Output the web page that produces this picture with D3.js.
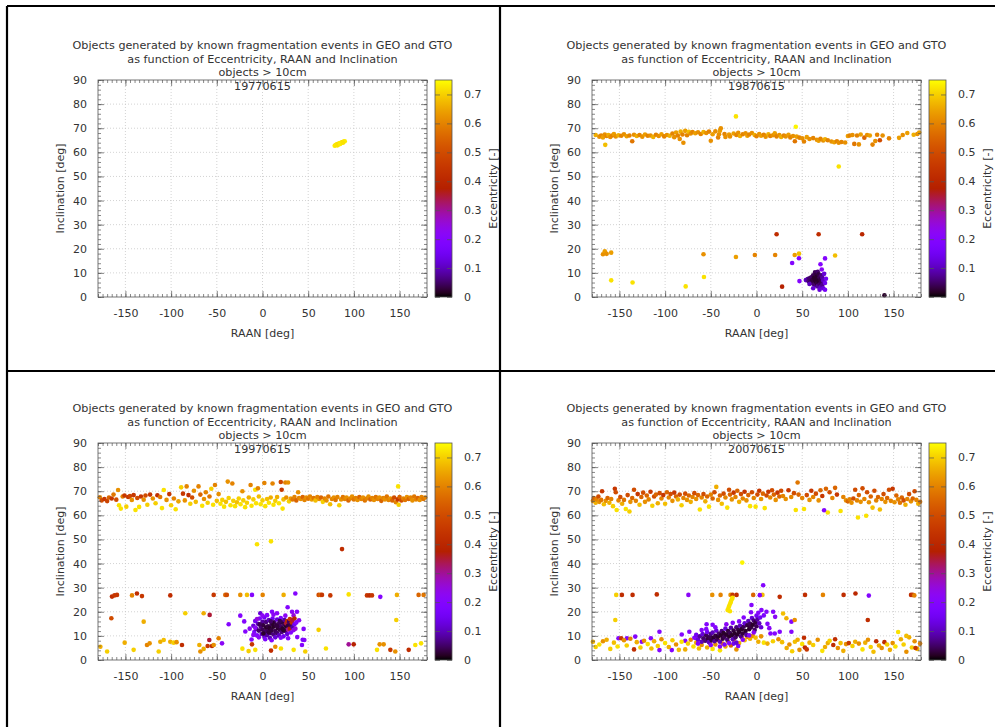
<!DOCTYPE html>
<html>
<head>
<meta charset="utf-8">
<script src="https://cdn.jsdelivr.net/npm/d3@7"></script>
<style>
  body { margin: 0; background: #fff; }
  text { font-family: "DejaVu Sans", sans-serif; fill: #333; }
</style>
</head>
<body>
<div id="container"></div>
<script>
// [RAAN deg, inclination deg, eccentricity]
var data1977 = [
  [79,62.7,.73],[80,63.0,.72],[81,63.2,.73],[82,63.4,.72],[83,63.3,.71],[84,63.7,.72],[85,63.9,.73],
  [86,64.0,.72],[87,64.2,.72],[88,64.3,.71],[89,64.5,.72],[90,64.6,.73],[82,62.9,.72],[85,63.5,.73],[88,64.0,.72]
];

var data1987 = [
  // band ~66 deg
  [-176,67.2,.66],[-172,66.5,.62],[-170,67.0,.6],[-168,66.2,.64],[-166,67.4,.62],[-164,66.8,.6],[-162,67.2,.66],
  [-160,66.4,.62],[-158,67.0,.6],[-156,67.6,.64],[-154,66.6,.62],[-151,67.1,.66],[-148,66.9,.6],[-145,67.5,.62],
  [-142,66.7,.64],[-139,67.0,.6],[-136,64.6,.58],[-134,67.3,.62],[-131,66.8,.66],[-128,67.2,.6],[-125,66.5,.62],
  [-122,67.4,.64],[-119,66.9,.6],[-116,67.0,.62],[-113,66.4,.66],[-110,67.3,.6],[-107,66.8,.62],[-104,67.5,.64],
  [-101,66.6,.6],[-98,67.2,.62],[-95,66.9,.66],[-92,67.8,.6],[-90,66.3,.62],[-88,68.2,.64],[-86,67.0,.6],
  [-84,65.5,.62],[-83,68.6,.66],[-81,67.4,.6],[-80,64.0,.62],[-78,68.9,.64],[-76,67.1,.6],[-74,68.5,.68],
  [-72,67.8,.62],[-70,68.4,.6],[-67,67.9,.64],[-64,68.3,.62],[-61,67.6,.6],[-58,68.4,.66],[-55,68.0,.62],
  [-52,68.6,.6],[-50,64.8,.62],[-48,67.5,.64],[-45,68.7,.62],[-42,66.2,.6],[-41,67.5,.62],[-40,69.0,.64],
  [-39,70.0,.62],[-35,67.6,.6],[-34,66.4,.62],[-30,67.4,.64],[-29,66.6,.62],
  [-25,67.8,.64],[-22,67.2,.6],[-20,68.1,.62],[-18,66.8,.66],[-15,67.5,.6],[-12,67.9,.62],[-10,66.9,.64],
  [-8,67.4,.6],[-5,68.0,.62],[-2,67.2,.66],[0,66.7,.6],[3,67.6,.62],[5,66.9,.64],[8,67.3,.6],[10,66.5,.62],
  [13,67.5,.66],[15,66.8,.6],[18,67.1,.62],[20,67.9,.64],[22,66.6,.6],[25,67.2,.62],[27,66.4,.66],[30,67.0,.6],
  [32,66.6,.62],[35,67.3,.64],[37,66.2,.6],[40,66.8,.62],[42,64.6,.58],[44,66.5,.64],[47,66.1,.6],[50,65.8,.62],
  [52,64.5,.6],[55,66.3,.64],[58,65.5,.62],[62,65.9,.6],[66,65.2,.62],[68,64.8,.64],[70,65.6,.6],[73,64.9,.62],
  [75,65.4,.66],[78,65.0,.6],[82,64.5,.62],[85,64.2,.64],[88,64.6,.6],[90,64.0,.62],[93,64.3,.6],[97,64.1,.62],
  [100,66.8,.64],[102,67.0,.6],[105,67.2,.62],[107,63.5,.58],[110,67.0,.6],[112,63.3,.62],[114,67.4,.64],
  [118,66.1,.55],[121,67.2,.62],[124,67.0,.64],[127,63.2,.6],[130,64.7,.62],[132,67.3,.6],[135,65.0,.5],
  [138,67.0,.62],[145,65.8,.6],[156,66.0,.64],[160,67.2,.62],[165,68.0,.64],[172,67.3,.66],[176,67.6,.62],[178,68.2,.64],
  // scattered
  [-165.5,63.1,.68],[-22.5,74.9,.72],[43,70.6,.74],[90,54.1,.72],
  [22,26,.42],[68,26,.42],[115.6,26,.4],
  [-168,17.7,.62],[-166,19,.64],[-164,17.9,.62],[-159,18.4,.64],
  [-159,6.9,.72],[-135.6,6,.72],[-77.5,4.4,.72],[-57.5,8.3,.72],
  [-58,17.7,.62],[-22.5,16.6,.64],[-1.8,17.4,.6],[20.4,17.4,.6],[41.8,17.4,.64],[46.5,18,.68],[86,17.2,.68],
  [39,14.1,.2],[46.5,16.1,.2],[47,6.6,.2],[28,4.3,.38],[75,16,.2],[70,13.6,.2],[71.4,11.4,.22],[140,0.7,.02],
  // cluster
  [54,7.0,.1],[56,7.4,.08],[57,6.5,.06],[58,7.8,.05],[59,6.2,.04],[60,8.2,.05],[60,5.8,.07],[61,7.0,.03],
  [62,9.0,.04],[62,6.0,.03],[63,8.0,.02],[63,5.2,.05],[64,10.2,.04],[64,7.2,.02],[65,9.2,.03],[65,6.4,.02],
  [65,4.8,.06],[66,8.4,.02],[66,5.6,.03],[67,10.5,.05],[67,7.6,.02],[67,4.4,.08],[68,9.4,.03],[68,6.6,.02],
  [69,8.2,.04],[69,5.2,.05],[70,7.2,.03],[70,4.0,.1],[71,9.0,.06],[71,6.0,.04],[72,8.0,.08],[72,5.0,.07],
  [73,6.8,.1],[73,3.6,.12],[74,9.6,.12],[75,5.8,.14],[75,3.0,.16],[76,7.6,.15],[58,5.4,.1],[62,3.6,.12],[69,3.0,.12]
];

var data1997 = [
  // band, left part mixed
  [-178,67.5,.6],[-176,66.2,.5],[-173,66.8,.45],[-170,65.9,.48],[-168,67.4,.55],[-165,67.0,.45],[-163,68.6,.58],
  [-160,66.5,.5],[-158,70.5,.62],[-157,64.2,.72],[-155,62.8,.72],[-153,67.8,.6],[-151,68.2,.45],[-149,63.6,.7],
  [-147,67.6,.45],[-145,68.0,.48],[-143,66.4,.62],[-141,68.4,.45],[-139,62.2,.72],[-137,67.2,.5],[-135,63.5,.72],
  [-133,67.8,.45],[-130,66.5,.62],[-128,68.2,.5],[-126,64.4,.7],[-123,68.6,.45],[-120,67.0,.62],[-117,65.0,.7],
  [-115,68.3,.42],[-112,67.6,.58],[-110,63.0,.72],[-108,70.5,.72],[-105,66.4,.62],[-102,68.8,.45],[-100,64.2,.7],
  [-97,67.0,.6],[-95,62.5,.72],[-92,65.8,.65],[-89,71.6,.7],[-87,69.0,.45],[-85,66.2,.62],[-83,72.0,.6],
  [-81,68.4,.42],[-79,64.8,.7],[-77,67.4,.5],[-75,70.2,.62],[-73,65.6,.68],[-70,72.0,.6],[-68,68.6,.55],
  [-66,64.0,.72],[-64,66.8,.62],[-62,69.6,.6],[-60,65.2,.7],[-58,67.8,.58],[-56,71.0,.7],[-54,64.4,.72],
  [-52,72.6,.6],[-50,66.0,.68],[-48,68.8,.62],
  // middle, yellow
  [-46,64.8,.72],[-44,66.4,.7],[-42,63.6,.72],[-40,65.6,.68],[-38,74.0,.62],[-37,67.2,.7],[-35,64.2,.72],
  [-33,73.2,.6],[-32,66.0,.7],[-30,63.8,.72],[-28,65.4,.68],[-26,67.0,.7],[-24,64.6,.72],[-22,70.0,.62],
  [-21,66.2,.7],[-19,63.4,.72],[-17,65.2,.7],[-15,67.4,.66],[-13,72.6,.6],[-12,64.0,.72],[-10,66.6,.7],
  [-8,70.6,.72],[-7,65.0,.72],[-5,71.2,.6],[-4,67.8,.68],[-2,64.6,.72],[0,66.2,.7],[2,73.4,.6],[3,63.8,.72],
  [5,66.8,.68],[7,65.2,.72],[9,67.4,.66],[11,73.2,.6],[12,64.4,.72],[14,66.0,.7],[16,67.6,.66],[18,65.0,.72],
  [20,73.8,.48],[21,70.6,.45],[22,62.8,.72],[23,66.6,.68],[25,73.6,.6],[26,67.4,.62],[28,73.6,.62],[29,65.8,.7],
  [31,67.0,.64],
  // right, orange
  [33,66.6,.58],[35,67.6,.6],[37,66.2,.55],[39,69.6,.62],[40,67.2,.6],[42,66.8,.62],[44,67.6,.55],[46,66.4,.6],
  [48,67.4,.62],[50,66.9,.58],[52,67.8,.6],[54,66.6,.64],[56,67.2,.58],[58,66.2,.68],[60,67.6,.6],[62,66.8,.62],
  [64,67.4,.55],[66,65.6,.7],[68,67.0,.6],[70,66.2,.62],[72,67.8,.58],[74,64.6,.68],[76,66.8,.6],[78,67.4,.62],
  [80,66.4,.58],[82,67.6,.6],[84,64.2,.7],[86,66.6,.62],[88,67.6,.58],[90,66.8,.6],[92,67.4,.62],[94,66.2,.55],
  [96,67.0,.6],[98,67.8,.62],[100,66.6,.58],[102,67.2,.6],[104,66.4,.62],[106,67.6,.55],[108,66.8,.6],
  [110,67.4,.62],[112,66.2,.58],[114,67.0,.6],[116,67.8,.62],[118,66.6,.55],[120,67.2,.6],[122,66.4,.62],
  [124,67.6,.58],[126,66.8,.6],[128,67.4,.62],[130,66.0,.55],[132,67.2,.6],[134,66.6,.62],[136,67.8,.58],
  [138,66.4,.6],[140,67.0,.62],[142,66.2,.55],[144,67.4,.5],[146,65.4,.6],[148,66.6,.45],[149,64.4,.7],
  [150,67.6,.55],[152,66.2,.5],[154,67.0,.6],[156,66.4,.58],[158,67.6,.62],[160,66.8,.55],[162,67.4,.6],
  [164,66.2,.62],[166,67.8,.58],[168,66.6,.6],[170,67.2,.55],[172,66.4,.62],[174,67.6,.6],[176,66.8,.58],[178,67.4,.6],
  // line near 27 deg
  [-164.7,26.3,.42],[-162,26.8,.45],[-159.2,27.0,.45],[-142.8,26.8,.6],[-137.4,27.6,.42],[-131.9,26.5,.45],
  [-100.9,26.8,.42],[-53.4,27.0,.45],[-40.7,27.0,.55],[-39,27.0,.5],[-24.3,27.0,.62],[-17,27.0,.68],
  [-11.5,27.0,.2],[0.2,27.0,.6],[23.1,27.0,.66],[35.9,27.6,.2],[61.4,27.0,.5],[63.5,27.0,.55],[65.1,27.0,.45],
  [74.2,26.8,.45],[94.3,27.2,.72],[114.3,26.8,.45],[117,26.8,.42],[119.8,26.8,.45],[128.9,26.2,.2],
  [147.1,27.0,.66],[170.8,27.0,.55],[176.3,27.0,.58],
  // low and scattered
  [-165.4,17.3,.5],[-130,15.9,.66],[-84.5,19.4,.7],[-64.4,19.4,.66],[-57.8,18.7,.35],[-58.2,8.3,.35],
  [-48,9.0,.6],[-44.3,6.9,.22],[-177.4,5.5,.66],[-170,3.5,.7],[-150.8,7.2,.66],[-141,4.2,.7],[-126.4,6.2,.6],
  [-123.5,6.9,.62],[-113.6,3.5,.7],[-111.8,7.6,.66],[-108.1,8.3,.68],[-100.9,7.6,.66],[-97.2,7.2,.7],
  [-94,7.4,.62],[-88.1,6.2,.42],[-69.1,6.2,.66],[-68,3.5,.62],[-64.4,4.6,.66],[-60,5.8,.45],[-55.3,5.8,.42],
  [-53.4,6.2,.62],[-22,4.7,.72],[-15.2,3.7,.7],[-11.5,6.5,.45],[-7.9,4.2,.72],[9.3,3.9,.42],[14,5.5,.62],
  [20.2,4.8,.72],[34.1,4.2,.72],[43.2,6.2,.2],[45.8,8.3,.22],[44,8.4,.18],[46.8,3.5,.7],[69.4,4.8,.72],
  [61.4,12.5,.7],[94.3,6.5,.3],[99.8,6.5,.38],[125.3,4.2,.72],[128.2,6.5,.62],[132.6,6.5,.62],[139.9,4.2,.45],
  [145.3,3.5,.62],[146.4,16.6,.7],[160,4.2,.42],[167.2,6.2,.72],[173.5,6.9,.72],
  [-6,48,.72],[9.3,49.2,.72],[87,46,.42],[148.4,72,.72],
  // cluster
  [-37,14.8,.2],[-24.3,18.4,.2],[-2.4,19.4,.12],[10.4,20,.2],[15.9,19.4,.22],[27.5,21.9,.2],[32.3,20,.22],
  [37.7,20,.2],[45,12.9,.2],[-18.8,11.8,.2],[-20,16,.2],[-14,13,.22],[-12,8.5,.2],[38,9.5,.2],[40,16.5,.22],[34,18.5,.25],
  [-10,14.2,.12],[-9,11.6,.18],[-8,16.2,.15],[-7,13.0,.08],[-6,10.2,.2],[-5,15.0,.1],[-4,12.2,.05],[-3,17.2,.18],
  [-2,13.8,.06],[-1,10.8,.1],[0,15.8,.08],[0,12.6,.04],[1,14.4,.03],[2,9.6,.12],[2,17.6,.15],[3,11.8,.05],
  [4,13.4,.02],[4,15.8,.06],[5,10.4,.08],[6,14.0,.03],[6,12.0,.04],[7,16.6,.1],[8,13.2,.02],[8,9.2,.1],
  [9,11.2,.05],[10,14.8,.04],[10,12.4,.03],[11,17.2,.15],[12,10.6,.06],[12,13.8,.02],[13,15.6,.05],[14,12.0,.04],
  [14,9.4,.12],[15,14.4,.03],[16,11.2,.05],[16,16.8,.12],[17,13.2,.02],[18,15.0,.04],[18,10.2,.1],[19,12.6,.03],
  [20,14.0,.05],[20,17.4,.18],[21,11.6,.06],[22,15.6,.03],[22,13.0,.02],[23,9.8,.15],[24,14.6,.04],[24,16.6,.08],
  [25,12.0,.05],[26,13.8,.02],[26,15.2,.35],[27,10.8,.12],[27,16.2,.42],[28,14.2,.03],[28,12.6,.3],[29,15.8,.05],
  [30,13.0,.38],[30,17.0,.45],[31,14.6,.04],[31,11.4,.2],[32,15.6,.42],[33,13.6,.08],[33,16.6,.35],[34,12.4,.22],
  [35,14.8,.15],[35,17.2,.4],[36,13.0,.25],[37,15.6,.2],[-8,13.4,.22],[-6,17.0,.25],[-4,9.4,.22],[0,18.4,.22],
  [5,18.6,.2],[12,18.8,.22],[20,9.2,.2],[25,18.4,.22],[-10,10.4,.22],[3,8.6,.18],[10,8.2,.2],[28,9.0,.2],
  [1,11.0,.02],[7,11.4,.03],[11,15.4,.02],[16,14.0,.03],[19,16.2,.04],[23,12.4,.02],[-3,14.8,.04],[9,16.0,.05]
];

var data2007 = [
  // band
  [-179,66.0,.6],[-178,67.2,.55],[-176,65.2,.66],[-175,66.6,.6],[-173,67.8,.5],[-172,65.6,.62],[-170,66.4,.58],
  [-169,70.0,.45],[-167,64.6,.68],[-165,66.0,.62],[-163,67.2,.55],[-161,65.2,.66],[-159,66.8,.6],[-157,63.8,.7],
  [-155,71.0,.45],[-154,69.6,.5],[-153,62.2,.72],[-151,66.2,.6],[-149,67.6,.5],[-147,64.8,.66],[-145,66.4,.58],
  [-143,62.6,.72],[-141,68.4,.5],[-139,61.6,.7],[-138,65.6,.62],[-136,67.2,.55],[-134,70.6,.5],[-132,66.0,.6],
  [-130,68.8,.45],[-128,64.4,.68],[-126,67.6,.55],[-124,69.4,.5],[-122,65.6,.62],[-120,68.2,.55],[-118,66.6,.6],
  [-116,69.8,.45],[-114,64.0,.7],[-112,67.8,.5],[-110,68.6,.55],[-108,65.0,.66],[-106,69.2,.5],[-104,67.0,.6],
  [-102,68.4,.45],[-100,64.8,.68],[-98,69.6,.55],[-96,67.4,.6],[-94,68.8,.5],[-92,66.0,.62],[-90,69.4,.45],
  [-88,67.8,.55],[-86,66.6,.66],[-84,68.6,.5],[-82,64.2,.7],[-80,67.2,.6],[-78,69.0,.5],[-76,66.4,.62],
  [-74,68.2,.55],[-72,65.6,.66],[-70,67.6,.6],[-68,69.2,.5],[-66,66.8,.62],[-64,68.4,.55],[-62,62.4,.72],
  [-60,67.4,.6],[-58,68.8,.5],[-56,65.8,.66],[-54,67.8,.55],[-52,63.6,.72],[-50,68.6,.6],[-48,67.0,.55],
  [-46,69.6,.5],[-44,71.8,.66],[-42,66.4,.62],[-40,68.2,.55],[-38,64.8,.68],[-36,69.0,.5],[-34,67.4,.6],
  [-32,63.2,.72],[-30,70.6,.5],[-29,68.6,.55],[-27,66.6,.62],[-25,69.4,.45],[-23,67.6,.6],[-21,70.2,.55],
  [-19,65.6,.66],[-17,68.8,.5],[-15,67.0,.6],[-13,69.8,.45],[-11,66.2,.62],[-9,68.4,.55],[-7,63.8,.72],
  [-5,69.6,.5],[-3,67.2,.6],[-1,63.6,.72],[1,68.6,.5],[3,70.2,.45],[5,66.8,.62],[7,69.0,.55],[9,63.0,.72],
  [11,68.2,.5],[13,69.8,.45],[15,67.4,.6],[17,70.4,.5],[19,68.6,.55],[21,66.4,.62],[23,69.4,.45],[25,67.8,.55],
  [27,70.2,.5],[29,68.0,.6],[32,66.8,.62],[35,70.4,.45],[38,67.6,.6],[41,69.2,.5],[43,62.2,.72],[45,73.6,.58],
  [46,68.6,.55],[50,67.2,.6],[52,62.6,.72],[55,68.4,.5],[58,66.4,.62],[60,70.2,.45],[62,67.6,.6],[65,69.0,.5],
  [68,66.2,.62],[70,70.4,.55],[72,68.0,.45],[74,62.1,.2],[76,71.0,.55],[78,61.2,.72],[80,69.6,.5],[83,67.2,.6],
  [86,71.4,.55],[88,68.6,.45],[92,61.8,.72],[95,67.6,.6],[98,66.2,.62],[100,65.8,.55],[102,66.6,.6],
  [104,65.2,.62],[106,67.0,.5],[108,70.6,.5],[110,66.2,.6],[111,59.1,.72],[112,68.4,.55],[114,65.6,.62],
  [116,71.2,.5],[118,66.8,.6],[120,59.8,.72],[121,69.6,.5],[123,65.4,.62],[125,67.8,.55],[127,63.2,.68],
  [129,70.2,.5],[131,66.2,.6],[133,67.6,.55],[135,62.4,.68],[137,66.8,.6],[139,68.8,.5],[141,65.6,.62],
  [143,67.2,.55],[145,70.6,.5],[147,66.0,.6],[149,71.0,.45],[151,65.4,.62],[153,68.2,.55],[155,66.6,.6],
  [157,65.2,.58],[159,67.4,.55],[161,66.2,.5],[163,64.4,.66],[165,66.8,.6],[167,68.8,.5],[169,65.8,.62],
  [171,67.0,.55],[173,70.0,.5],[175,66.4,.6],[177,64.8,.66],[179,65.6,.58],
  // line near 27 deg
  [-153.5,27,.7],[-147.3,27,.42],[-135.6,27,.42],[-109.1,27.2,.42],[-74.5,27,.22],[-48.4,27,.62],[-39.3,27,.6],
  [-28.4,27,.62],[-26.2,27,.45],[-21.8,27,.42],[-3.6,27,.55],[6.5,27,.68],[25.4,26.2,.42],[53.1,27,.42],
  [72.7,27,.6],[95.3,27,.42],[108.3,27.6,.4],[122.9,26.7,.2],[169.1,27,.42],[171,27,.45],[172.7,26.8,.6],
  [-154.5,16.6,.7],[121.8,16.6,.42],[-15.6,40.4,.74],
  // yellow streak
  [-31.6,20.7,.72],[-30.5,21.8,.72],[-29.8,22.5,.72],[-28.8,23.4,.72],[-28,24.2,.72],[-27,25.2,.72],[-26.2,25.8,.72],[-29,20.2,.72],
  // purple scattered
  [7.3,31,.2],[3.6,26.9,.2],[-5.5,22.8,.2],[5.4,20.7,.2],[10.9,20,.2],[18.2,20,.2],[20.4,17.9,.22],[29.1,19.3,.68],
  [32.7,17.3,.66],[38.2,15.9,.2],[41.8,16.6,.62],[15.3,11,.2],[20,11,.2],[25.4,11.7,.2],[38.2,11.7,.2],[12,15,.2],
  [8,18.5,.18],[14,13.2,.22],
  [-151,9,.2],[-141.8,9,.2],[-132.7,9.7,.2],[-125.5,7.6,.22],[-115.6,9,.2],[-106.2,11.7,.2],[-106.2,4.1,.2],
  [-92.7,4.1,.2],[-81.8,10.6,.2],[-73.5,11.7,.2],[-54.6,14.8,.2],[-66,9,.22],[-78,8,.2],
  // low band
  [-179,7.6,.66],[-176,5.4,.7],[-172,6.4,.72],[-168,7.8,.62],[-164,8.4,.66],[-160,4.6,.7],[-156,7.2,.68],
  [-152,5.6,.72],[-148,9.0,.45],[-145,8.2,.62],[-142,6.0,.7],[-138,8.8,.6],[-134,4.4,.42],[-131,7.4,.66],
  [-127,5.2,.7],[-123,8.0,.62],[-119,6.6,.72],[-115,4.8,.68],[-112,7.8,.66],[-108,5.8,.7],[-104,8.6,.62],
  [-100,7.0,.72],[-96,5.4,.66],[-92,8.2,.7],[-88,6.4,.62],[-85,4.2,.68],[-82,7.6,.72],[-78,4.4,.66],
  [-75,6.8,.7],[-72,8.4,.6],[-69,5.6,.72],[-66,7.2,.66],[-63,4.8,.68],[-60,6.2,.62],[-57,8.0,.7],[-54,5.2,.66],
  [-51,7.0,.6],[-48,4.6,.72],[-45,6.4,.62],[-42,8.2,.55],[-40,4.0,.72],[-37,6.8,.6],[-34,5.6,.66],[-31,7.6,.62],
  [-28,6.0,.55],[-25,8.4,.6],[-22,4.4,.62],[-19,7.0,.66],[-16,9.4,.6],[-13,8.2,.68],[-10,9.6,.6],[-7,8.8,.66],
  [-4,10.0,.62],[-1,9.2,.68],[2,7.6,.66],[5,9.8,.62],[8,7.2,.72],[12,6.8,.66],[18,7.8,.7],[24,8.6,.62],
  [28,7.4,.68],[33,5.0,.66],[36,6.4,.62],[39,3.6,.7],[42,7.6,.68],[45,8.4,.66],[47,4.2,.62],[50,6.6,.72],
  [52,9.2,.42],[53,5.2,.42],[55,4.4,.45],[58,7.2,.66],[62,6.2,.7],[67,8.4,.62],[72,3.8,.72],[75,5.4,.66],
  [78,7.0,.66],[80,8.0,.7],[84,6.2,.42],[86,8.6,.42],[89,5.0,.62],[92,7.0,.68],[95,3.8,.66],[98,6.6,.62],
  [101,7.0,.45],[105,5.8,.7],[108,7.6,.66],[112,6.8,.62],[116,4.4,.72],[119,7.2,.66],[122,8.4,.62],[125,5.4,.7],
  [128,3.4,.68],[131,7.8,.42],[134,6.0,.66],[137,5.0,.62],[140,7.4,.42],[143,6.4,.7],[146,4.2,.66],[149,7.0,.62],
  [152,5.6,.72],[155,11.6,.72],[158,8.6,.66],[161,6.4,.7],[164,3.4,.62],[167,9.4,.66],[170,5.2,.7],[173,7.8,.62],
  [176,4.6,.66],[179,6.8,.6],[164,10,.68],[174,5.0,.45],
  // cluster
  [-68,9.2,.2],[-66,10.4,.15],[-64,8.4,.12],[-62,9.8,.08],[-60,7.6,.1],[-59,10.8,.12],[-58,9.0,.05],[-56,8.0,.06],
  [-55,10.2,.04],[-54,11.6,.15],[-53,8.8,.03],[-52,7.4,.1],[-51,9.6,.04],[-50,10.8,.06],[-49,8.2,.03],[-48,11.4,.1],
  [-47,9.2,.02],[-46,7.8,.08],[-45,10.0,.03],[-44,12.2,.12],[-43,8.6,.04],[-42,9.8,.02],[-41,11.0,.05],[-40,7.6,.1],
  [-39,10.2,.02],[-38,12.0,.06],[-37,8.8,.03],[-36,11.2,.02],[-35,9.6,.04],[-34,13.0,.12],[-33,10.6,.02],[-32,8.4,.06],
  [-31,12.0,.03],[-30,9.8,.02],[-29,11.2,.04],[-28,13.4,.08],[-27,10.2,.02],[-26,8.6,.1],[-25,12.2,.03],[-24,11.0,.02],
  [-23,9.4,.05],[-22,13.6,.06],[-21,10.6,.02],[-20,12.4,.03],[-19,11.6,.02],[-18,14.2,.1],[-17,9.8,.06],[-16,12.8,.02],
  [-15,11.0,.03],[-14,13.8,.04],[-13,15.2,.12],[-12,12.0,.02],[-11,10.4,.08],[-10,14.4,.03],[-9,16.2,.1],[-8,12.8,.02],
  [-7,15.0,.04],[-6,13.6,.03],[-5,17.4,.12],[-4,14.6,.02],[-3,16.4,.06],[-2,12.4,.05],[-1,15.6,.03],[0,18.4,.15],
  [0,14.0,.04],[1,16.8,.08],[2,19.6,.2],[3,15.2,.1],[4,17.6,.15],[5,13.6,.12],[-45,13.6,.2],[-40,5.6,.2],
  [-35,6.4,.18],[-30,7.0,.2],[-25,6.8,.15],[-20,5.8,.2],[-15,8.4,.2],[-8,10.2,.2],[-3,11.4,.22],[-60,12.4,.2],
  [-48,14.6,.2],[-26,15.4,.2],[-14,17.6,.2],[-6,19.8,.2],[-50,6.2,.2],[-55,12.8,.2],[-33,14.8,.22],[-19,16.0,.2],
  [-64,6.8,.2],[-22,7.2,.12]
];

var dates = ["19770615", "19870615", "19970615", "20070615"];
var xTicks = [-150, -100, -50, 0, 50, 100, 150];
var yTicks = [0, 10, 20, 30, 40, 50, 60, 70, 80, 90];
var cbTicks = [0, 0.1, 0.2, 0.3, 0.4, 0.5, 0.6, 0.7];
var titleLines = [
  "Objects generated by known fragmentation events in GEO and GTO",
  "as function of Eccentricity, RAAN and Inclination",
  "objects > 10cm"
];

var width = 995, height = 727;
var svg = d3.select("#container").append("svg")
  .attr("width", width).attr("height", height);

// gnuplot default palette rgbformulae 7,5,15
function palette(t) {
  t = Math.max(0, Math.min(1, t));
  var r = Math.sqrt(t), g = t * t * t, b = Math.max(0, Math.sin(2 * Math.PI * t));
  return d3.rgb(r * 255, g * 255, b * 255).toString();
}

var cbMax = 0.75;
var grad = svg.append("defs").append("linearGradient")
  .attr("id", "pal").attr("x1", 0).attr("y1", 1).attr("x2", 0).attr("y2", 0);
d3.range(0, 1.0001, 0.02).forEach(function(t) {
  grad.append("stop").attr("offset", t).attr("stop-color", palette(t));
});

var panels = [
  { data: data1977, ox: 0, oy: 0 },
  { data: data1987, ox: 494, oy: 0 },
  { data: data1997, ox: 0, oy: 363 },
  { data: data2007, ox: 494, oy: 363 }
];

// plot area inside a panel
var L = 98, R = 427, T = 80, B = 297;
var hyphen = function(d) { return String(d).replace("\u2212", "-"); };

panels.forEach(function(p, i) {
  var g = svg.append("g").attr("transform", "translate(" + p.ox + "," + p.oy + ")");

  var x = d3.scaleLinear().domain([-180, 180]).range([L, R]);
  var y = d3.scaleLinear().domain([0, 90]).range([B, T]);
  var c = d3.scaleLinear().domain([0, cbMax]).range([B, T]);

  // grid
  g.append("g").selectAll("line").data(xTicks).enter().append("line")
    .attr("x1", function(d) { return x(d); }).attr("x2", function(d) { return x(d); })
    .attr("y1", T).attr("y2", B)
    .attr("stroke", "#c8c8c8").attr("stroke-width", 0.8).attr("stroke-dasharray", "1,2");
  g.append("g").selectAll("line").data(yTicks.slice(1, -1)).enter().append("line")
    .attr("y1", function(d) { return y(d); }).attr("y2", function(d) { return y(d); })
    .attr("x1", L).attr("x2", R)
    .attr("stroke", "#c8c8c8").attr("stroke-width", 0.8).attr("stroke-dasharray", "1,2");

  // points
  g.append("g").selectAll("circle").data(p.data).enter().append("circle")
    .attr("cx", function(d) { return x(d[0]); })
    .attr("cy", function(d) { return y(d[1]); })
    .attr("r", 2.3)
    .attr("fill", function(d) { return palette(d[2] / cbMax); });

  // axes with inward ticks, mirrored
  var ax = function(gen, tx, ty) {
    return g.append("g").attr("transform", "translate(" + tx + "," + ty + ")").call(gen);
  };
  ax(d3.axisBottom(x).tickValues(xTicks).tickSize(-6).tickPadding(12).tickFormat(hyphen), 0, B);
  ax(d3.axisTop(x).tickValues(xTicks).tickSize(-6).tickFormat(""), 0, T);
  ax(d3.axisLeft(y).tickValues(yTicks).tickSize(-6).tickPadding(11), L, 0);
  ax(d3.axisRight(y).tickValues(yTicks).tickSize(-6).tickFormat(""), R, 0);
  var minorX = d3.range(-180, 181, 5);
  var minorY = d3.range(0, 91, 2);
  ax(d3.axisBottom(x).tickValues(minorX).tickSize(-3).tickFormat(""), 0, B);
  ax(d3.axisTop(x).tickValues(minorX).tickSize(-3).tickFormat(""), 0, T);
  ax(d3.axisLeft(y).tickValues(minorY).tickSize(-3).tickFormat(""), L, 0);
  ax(d3.axisRight(y).tickValues(minorY).tickSize(-3).tickFormat(""), R, 0);

  g.append("rect").attr("x", L).attr("y", T).attr("width", R - L).attr("height", B - T)
    .attr("fill", "none").attr("stroke", "#555").attr("stroke-width", 0.8);

  // colour box
  var cbx = R + 8, cbw = 17;
  g.append("rect").attr("x", cbx).attr("y", T).attr("width", cbw).attr("height", B - T)
    .attr("fill", "url(#pal)").attr("stroke", "#555").attr("stroke-width", 0.8);
  ax(d3.axisRight(c).tickValues(cbTicks).tickSize(-5).tickPadding(12)
    .tickFormat(function(d) { return d === 0 ? "0" : d3.format(".1f")(d); }), cbx + cbw, 0);
  ax(d3.axisLeft(c).tickValues(cbTicks).tickSize(-5).tickFormat(""), cbx, 0);
  g.selectAll(".domain").remove();
  g.selectAll(".tick line").attr("stroke", "#555").attr("stroke-width", 0.7);
  g.selectAll(".tick text").style("font-size", "11px").style("font-family", "DejaVu Sans, sans-serif").attr("fill", "#333");

  // titles
  g.append("g").selectAll("text").data(titleLines.concat([dates[i]])).enter().append("text")
    .attr("x", (L + R) / 2)
    .attr("y", function(d, k) { return 49 + k * 13.5; })
    .attr("text-anchor", "middle")
    .style("font-size", "11.2px")
    .text(function(d) { return d; });

  g.append("text").attr("x", (L + R) / 2).attr("y", 337).attr("text-anchor", "middle")
    .style("font-size", "11px").text("RAAN [deg]");
  g.append("text").attr("transform", "translate(64," + (T + B) / 2 + ") rotate(-90)")
    .attr("text-anchor", "middle").style("font-size", "11px").text("Inclination [deg]");
  g.append("text").attr("transform", "translate(497," + (T + B) / 2 + ") rotate(-90)")
    .attr("text-anchor", "middle").style("font-size", "11px").text("Eccentricity [-]");
});

// panel frames
var frame = [[7, 6, 7, 727], [500, 6, 500, 727], [7, 6, 995, 6], [7, 371, 995, 371]];
svg.append("g").selectAll("line").data(frame).enter().append("line")
  .attr("x1", function(d) { return d[0]; }).attr("y1", function(d) { return d[1]; })
  .attr("x2", function(d) { return d[2]; }).attr("y2", function(d) { return d[3]; })
  .attr("stroke", "#000").attr("stroke-width", 2.2);
</script>
</body>
</html>
